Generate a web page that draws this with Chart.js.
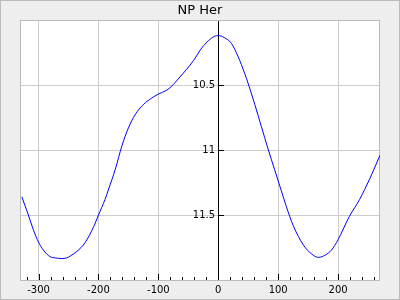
<!DOCTYPE html>
<html>
<head>
<meta charset="utf-8">
<script src="https://cdn.jsdelivr.net/npm/chart.js@4/dist/chart.umd.min.js"></script>
<style>
  html, body { margin: 0; padding: 0; background: #eeeeee; }
  canvas { display: block; }
</style>
</head>
<body>
<canvas id="myChart" width="400" height="300"></canvas>
<script>
// light curve of NP Her, phase vs magnitude
const phases = [-328, -317, -309, -300, -292, -281, -272, -262, -253, -247, -236, -222, -208, -200, -189,
    -183, -172, -161, -150, -139, -125, -111, -100, -86, -78, -72, -53, -41, -30, -19, -6,
    0, 10, 22, 33, 44, 50, 61, 72, 83, 94, 105, 114, 125, 142, 156, 167, 178, 189,
    200, 219, 236, 253, 270];
const mags = [11.36, 11.50, 11.61, 11.71, 11.77, 11.82, 11.83, 11.835, 11.83, 11.815, 11.78, 11.71, 11.59, 11.50, 11.38,
    11.30, 11.15, 10.97, 10.83, 10.73, 10.65, 10.60, 10.57, 10.54, 10.51, 10.48, 10.38, 10.31, 10.23, 10.17, 10.125,
    10.12, 10.135, 10.18, 10.28, 10.41, 10.49, 10.65, 10.82, 10.99, 11.15, 11.31, 11.44, 11.58, 11.73, 11.80, 11.826, 11.81, 11.77,
    11.69, 11.51, 11.38, 11.22, 11.04];

const xTicks = [-300, -200, -100, 0, 100, 200];
const xMinorTicks = [-320, -280, -260, -240, -220, -180, -160, -140, -120, -80, -60, -40, -20,
    20, 40, 60, 80, 120, 140, 160, 180, 220, 240, 260];
const yTicks = [10.5, 11, 11.5];

const points = phases.map((p, i) => ({x: p, y: mags[i]}));

// backgrounds, frame and the inward tick marks
const framePlugin = {
    id: 'framePlugin',
    beforeDraw(chart) {
        const ctx = chart.ctx;
        const a = chart.chartArea;
        ctx.save();
        ctx.fillStyle = '#eeeeee';
        ctx.fillRect(0, 0, chart.width, chart.height);
        ctx.fillStyle = '#ffffff';
        ctx.fillRect(a.left, a.top, a.right - a.left, a.bottom - a.top);
        ctx.restore();
    },
    beforeDatasetsDraw(chart) {
        const ctx = chart.ctx;
        const a = chart.chartArea;
        const xs = chart.scales.x;
        const ys = chart.scales.y;
        ctx.save();
        ctx.lineWidth = 1;
        ctx.strokeStyle = '#bbbbbb';
        ctx.strokeRect(a.left + 0.5, a.top + 0.5, a.right - a.left - 1, a.bottom - a.top);
        ctx.strokeStyle = '#000000';
        ctx.beginPath();
        xMinorTicks.forEach(v => {
            const px = Math.round(xs.getPixelForValue(v)) + 0.5;
            ctx.moveTo(px, a.bottom);
            ctx.lineTo(px, a.bottom - 3);
        });
        xTicks.forEach(v => {
            const px = Math.round(xs.getPixelForValue(v)) + 0.5;
            ctx.moveTo(px, a.bottom);
            ctx.lineTo(px, a.bottom - 6);
        });
        const x0 = Math.round(xs.getPixelForValue(0));
        yTicks.forEach(v => {
            const py = Math.round(ys.getPixelForValue(v)) + 0.5;
            ctx.moveTo(x0, py);
            ctx.lineTo(x0 + 6, py);
        });
        ctx.stroke();
        ctx.restore();
    },
    afterDraw(chart) {
        const ctx = chart.ctx;
        ctx.save();
        ctx.strokeStyle = '#bbbbbb';
        ctx.lineWidth = 1;
        ctx.strokeRect(0.5, 0.5, chart.width - 1, chart.height - 1);
        ctx.restore();
    }
};

const config = {
    type: 'line',
    data: {
        datasets: [{
            label: 'NP Her',
            data: points,
            borderColor: '#0000ff',
            borderWidth: 1,
            pointRadius: 0,
            cubicInterpolationMode: 'monotone',
            fill: false
        }]
    },
    options: {
        responsive: false,
        animation: false,
        devicePixelRatio: 1,
        layout: { padding: { left: 20, right: 20, top: 0, bottom: 0 } },
        plugins: {
            legend: { display: false },
            tooltip: { enabled: false },
            title: {
                display: true,
                text: 'NP Her',
                color: '#000000',
                font: { family: 'DejaVu Sans', size: 13, weight: 'normal', lineHeight: 1.2 },
                padding: { top: 3, bottom: 1.4 }
            }
        },
        scales: {
            x: {
                type: 'linear',
                min: -331,
                max: 270,
                afterBuildTicks: s => { s.ticks = xTicks.map(v => ({value: v})); },
                afterFit: s => { s.height = 20; },
                grid: { color: '#cccccc', drawTicks: false },
                border: { display: false },
                ticks: {
                    color: '#000000',
                    padding: 4,
                    font: { family: 'DejaVu Sans', size: 10 },
                    maxRotation: 0
                }
            },
            y: {
                type: 'linear',
                reverse: true,
                min: 10,
                max: 12,
                position: { x: 0 },
                afterBuildTicks: s => { s.ticks = yTicks.map(v => ({value: v})); },
                grid: { color: '#cccccc', drawTicks: true, tickLength: 13, tickColor: 'rgba(0,0,0,0)' },
                border: { display: true, color: '#000000', width: 1 },
                ticks: {
                    color: '#000000',
                    padding: 0,
                    font: { family: 'DejaVu Sans', size: 10 },
                    // trailing space keeps the label clear of the axis line
                    callback: v => String(v) + ' '
                }
            }
        }
    },
    plugins: [framePlugin]
};

new Chart(document.getElementById('myChart'), config);
</script>
</body>
</html>
